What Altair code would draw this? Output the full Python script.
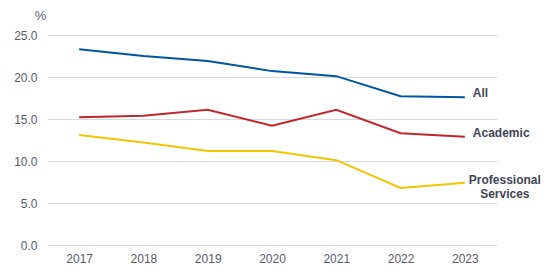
import altair as alt
import pandas as pd

years = ["2017", "2018", "2019", "2020", "2021", "2022", "2023"]
all_staff = [23.3, 22.5, 21.9, 20.7, 20.1, 17.7, 17.6]
academic = [15.2, 15.4, 16.1, 14.2, 16.1, 13.3, 12.9]
professional = [13.1, 12.2, 11.2, 11.2, 10.1, 6.8, 7.4]

series_names = ["All", "Academic", "Professional Services"]
series_colors = ["#0055a0", "#c0272d", "#f2c500"]

rows = []
for name, vals in zip(series_names, [all_staff, academic, professional]):
    for y, v in zip(years, vals):
        rows.append({"year": y, "value": v, "series": name})
df = pd.DataFrame(rows)

font = "Liberation Sans"
txt_color = "#3f4457"

x_enc = alt.X("year:O", sort=years, title=None,
              scale=alt.Scale(paddingInner=1, paddingOuter=0.5, domain=years),
              axis=alt.Axis(labelAngle=0, ticks=False, domain=False, grid=False, labelPadding=8,
                            labelFont=font, labelFontSize=12, labelColor="#595b6b"))
y_enc = alt.Y("value:Q", title="%",
              scale=alt.Scale(domain=[0, 25], nice=False),
              axis=alt.Axis(values=[0, 5, 10, 15, 20, 25], format=".1f", ticks=False, domain=False,
                            labelPadding=10, labelFont=font, labelFontSize=12, labelColor="#595b6b",
                            gridColor="#d9d9d9", gridWidth=1,
                            titleAngle=0, titleX=-7, titleY=-20, titleAlign="center",
                            titleBaseline="middle", titleFont=font, titleFontSize=13,
                            titleFontWeight="normal", titleColor="#595b6b"))

color_enc = alt.Color("series:N", scale=alt.Scale(domain=series_names, range=series_colors), legend=None)

lines = alt.Chart(df).mark_line(strokeWidth=2).encode(x=x_enc, y=y_enc, color=color_enc)

last = df[df["year"] == years[-1]]

lab1 = alt.Chart(last[last["series"] != "Professional Services"]).mark_text(
    align="left", baseline="middle", dx=8, dy=-4, font=font, fontSize=12, fontWeight="bold",
    color=txt_color
).encode(x=alt.X("year:O", sort=years), y="value:Q", text="series:N")

lab2 = alt.Chart(last[last["series"] == "Professional Services"]).transform_calculate(
    lbl="'Professional\\nServices'"
).mark_text(
    align="center", baseline="middle", dx=40, dy=-3, font=font, fontSize=12, fontWeight="bold",
    color=txt_color, lineBreak="\n", lineHeight=14
).encode(x=alt.X("year:O", sort=years), y="value:Q", text="lbl:N")

chart = alt.layer(lines, lab1, lab2).properties(
    width=450, height=210,
    autosize=alt.AutoSizeParams(type="none"),
    padding={"left": 47, "top": 35, "right": 47, "bottom": 29},
).configure(background="white").configure_view(stroke=None)

chart.save("out.html", embed_options={"renderer": "svg", "actions": False})
